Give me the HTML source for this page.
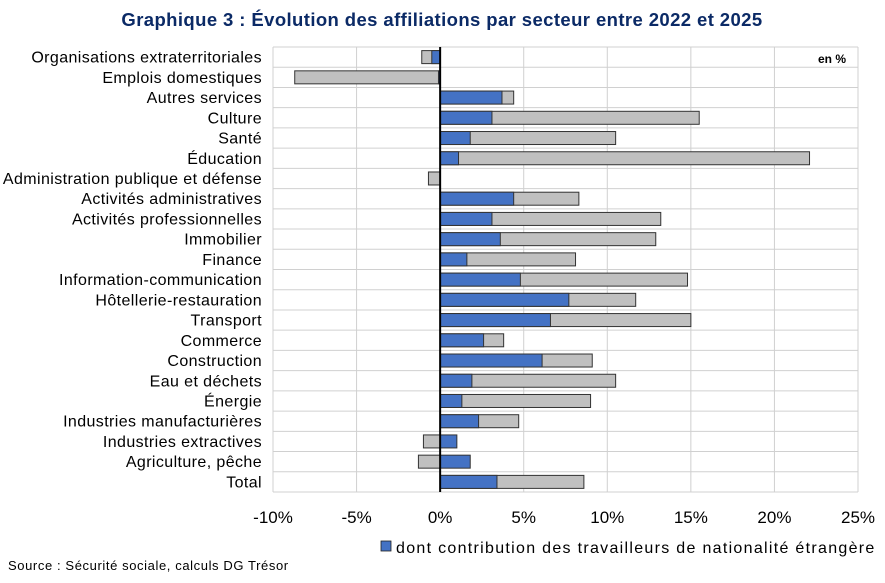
<!DOCTYPE html>
<html><head><meta charset="utf-8"><style>
body{margin:0;background:#fff;font-family:"Liberation Sans",sans-serif}
</style></head><body>
<svg width="885" height="578" xmlns="http://www.w3.org/2000/svg" font-family="Liberation Sans, sans-serif">
<text x="442" y="26" text-anchor="middle" font-size="18.5" letter-spacing="0.4" font-weight="bold" fill="#0b2a66">Graphique 3 : Évolution des affiliations par secteur entre 2022 et 2025</text>
<g id="grid"></g><g id="bars"></g><g id="labels"></g>
<text x="846" y="63" text-anchor="end" font-size="12" font-weight="bold">en %</text>
<rect x="381" y="541" width="10" height="10" fill="#4472c4" stroke="#222" stroke-width="0.8"/>
<text x="396" y="553" font-size="16" letter-spacing="1.3">dont contribution des travailleurs de nationalité étrangère</text>
<text x="8" y="570" font-size="13" letter-spacing="0.6">Source : Sécurité sociale, calculs DG Trésor</text>
</svg>
<script>
const categories=["Organisations extraterritoriales","Emplois domestiques","Autres services","Culture","Santé","Éducation","Administration publique et défense","Activités administratives","Activités professionnelles","Immobilier","Finance","Information-communication","Hôtellerie-restauration","Transport","Commerce","Construction","Eau et déchets","Énergie","Industries manufacturières","Industries extractives","Agriculture, pêche","Total"];
const totals=[-1.1,-8.7,4.4,15.5,10.5,22.1,-0.7,8.3,13.2,12.9,8.1,14.8,11.7,15.0,3.8,9.1,10.5,9.0,4.7,-1.0,-1.3,8.6];
const foreign=[-0.5,-0.1,3.7,3.1,1.8,1.1,0,4.4,3.1,3.6,1.6,4.8,7.7,6.6,2.6,6.1,1.9,1.3,2.3,1.0,1.8,3.4];
const ticks=[-10,-5,0,5,10,15,20,25];
const tickLabels=["-10%","-5%","0%","5%","10%","15%","20%","25%"];
const NS="http://www.w3.org/2000/svg";
const x0=273,x1=858,y0=47,y1=492;
const xs=v=>x0+(v+10)/35*(x1-x0);
const rowH=(y1-y0)/categories.length;
const ys=i=>y0+i*rowH;
function mk(tag,attrs,parent){const e=document.createElementNS(NS,tag);for(const k in attrs)e.setAttribute(k,attrs[k]);document.getElementById(parent).appendChild(e);return e;}
for(let i=0;i<=categories.length;i++){const l=mk('line',{x1:x0,x2:x1,y1:ys(i),y2:ys(i),stroke:'#d0d0d0','stroke-width':1},'grid');

}
ticks.forEach((t,k)=>{const l=mk('line',{x1:xs(t),x2:xs(t),y1:y0,y2:y1,stroke:'#d0d0d0','stroke-width':1},'grid');


const tx=mk('text',{x:xs(t),y:523,'text-anchor':'middle','font-size':17},'labels');tx.textContent=tickLabels[k];

});
const bh=13;
categories.forEach((c,i)=>{const cy=ys(i)+rowH/2;
const t=mk('text',{x:262,y:cy+5.5,'text-anchor':'end','font-size':16,'letter-spacing':0.4},'labels');t.textContent=c;


const g=mk('rect',{x:Math.min(xs(0),xs(totals[i])),y:cy-bh/2,width:Math.abs(xs(totals[i])-xs(0)),height:bh,fill:'#c0c0c0',stroke:'#333','stroke-width':1},'bars');


if(foreign[i]!==0){const b=mk('rect',{x:Math.min(xs(0),xs(foreign[i])),y:cy-bh/2,width:Math.abs(xs(foreign[i])-xs(0)),height:bh,fill:'#4472c4',stroke:'#333','stroke-width':1},'bars');

}
});
const z=mk('line',{x1:xs(0),x2:xs(0),y1:y0,y2:y1,stroke:'#000','stroke-width':2},'bars');


</script>
</body></html>
